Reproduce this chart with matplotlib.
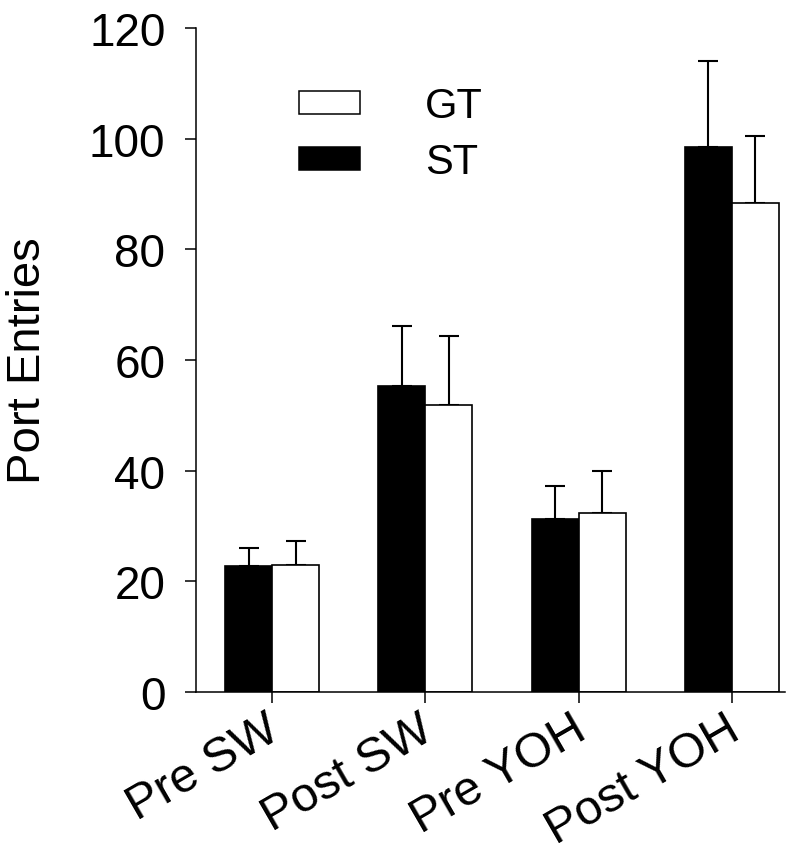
import matplotlib
matplotlib.use("Agg")
import matplotlib.pyplot as plt
import matplotlib.transforms as mtransforms
import numpy as np
from matplotlib.patches import Patch

plt.rcParams['font.family'] = ['Liberation Sans', 'DejaVu Sans']

categories = ["Pre SW", "Post SW", "Pre YOH", "Post YOH"]
st_means = [22.8, 55.3, 31.3, 98.5]
st_err = [3.3, 10.9, 6.0, 15.5]
gt_means = [23.0, 51.8, 32.4, 88.4]
gt_err = [4.2, 12.6, 7.6, 12.1]
yticks = [0, 20, 40, 60, 80, 100, 120]

fig = plt.figure(figsize=(7.97, 8.62), dpi=100)
ax = fig.add_axes([196/797, 1-693/862, (785-196)/797, (693-29)/862])

x = np.arange(len(categories))
w = 0.307
lw = 1.2
ax.bar(x - w/2, st_means, w, color='black', edgecolor='black', linewidth=lw, zorder=2)
ax.bar(x + w/2, gt_means, w, color='white', edgecolor='black', linewidth=lw, zorder=2)
ax.errorbar(x - w/2, st_means, yerr=[np.zeros(4), st_err], fmt='none', ecolor='black',
            elinewidth=1.5, capsize=7.2, capthick=1.5, zorder=1)
ax.errorbar(x + w/2, gt_means, yerr=[np.zeros(4), gt_err], fmt='none', ecolor='black',
            elinewidth=1.5, capsize=7.2, capthick=1.5, zorder=1)

ax.set_xlim(-0.496, 3.346)
ax.set_ylim(0, 120)
ax.set_yticks(yticks)
ax.set_yticklabels([str(v) for v in yticks], fontsize=33)
ax.set_xticks(x)
ax.set_xticklabels(categories, fontsize=35, rotation=30, ha='right', va='baseline',
                   rotation_mode='anchor')
ax.tick_params(axis='both', direction='out', length=8, width=1.1, color='black')
ax.tick_params(axis='y', pad=14)
ax.tick_params(axis='x', pad=24)
offset = mtransforms.ScaledTranslation(10/100, 0, fig.dpi_scale_trans)
for lbl in ax.get_xticklabels():
    lbl.set_transform(lbl.get_transform() + offset)
for s in ['top', 'right']:
    ax.spines[s].set_visible(False)
for s in ['left', 'bottom']:
    ax.spines[s].set_linewidth(1.1)
ax.set_ylabel("Port Entries", fontsize=34, labelpad=28)

handles = [Patch(facecolor='white', edgecolor='black', linewidth=1.1),
           Patch(facecolor='black', edgecolor='black', linewidth=1.1)]
fig.legend(handles, ["GT", "ST"], loc='upper left',
           bbox_to_anchor=(299/797, 1-87/862), frameon=False, fontsize=30,
           handlelength=1.46, handleheight=0.46, handletextpad=1.56,
           labelspacing=0.39, borderpad=0, borderaxespad=0)

fig.savefig("out.png", dpi=100)
